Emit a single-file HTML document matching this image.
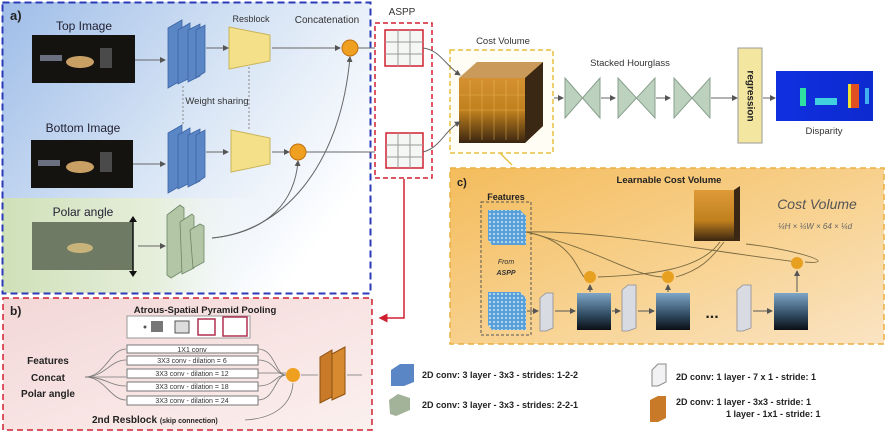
<!DOCTYPE html>
<html><head><meta charset="utf-8"><style>
html,body{margin:0;padding:0;background:#fff}
svg{display:block}
text{font-family:"Liberation Sans",sans-serif}
</style></head><body>
<svg width="885" height="432" viewBox="0 0 885 432" xmlns="http://www.w3.org/2000/svg">
<defs>
<linearGradient id="ga" x1="0" y1="0" x2="1" y2="0.6">
<stop offset="0" stop-color="#9fbde8"/><stop offset="0.55" stop-color="#d8e5f5"/><stop offset="1" stop-color="#ffffff"/></linearGradient>
<linearGradient id="gg" x1="0" y1="0" x2="1" y2="0">
<stop offset="0" stop-color="#cfe0b8"/><stop offset="0.6" stop-color="#e6efdc"/><stop offset="1" stop-color="#ffffff" stop-opacity="0"/></linearGradient>
<linearGradient id="gc" x1="0" y1="0" x2="1" y2="1">
<stop offset="0" stop-color="#f4bc5c"/><stop offset="0.6" stop-color="#f8d496"/><stop offset="1" stop-color="#fae4c4"/></linearGradient>
<linearGradient id="gb" x1="0" y1="0" x2="1" y2="1">
<stop offset="0" stop-color="#f3d7d7"/><stop offset="1" stop-color="#fbf0ee"/></linearGradient>
<linearGradient id="cube" x1="0" y1="0" x2="0" y2="1">
<stop offset="0" stop-color="#e09a38"/><stop offset="0.6" stop-color="#c0801e"/><stop offset="1" stop-color="#3a2510"/></linearGradient>
<linearGradient id="disp" x1="0" y1="0" x2="1" y2="0">
<stop offset="0" stop-color="#1030e0"/><stop offset="1" stop-color="#0d2ad0"/></linearGradient>
<linearGradient id="comb" x1="0" y1="0" x2="0" y2="1">
<stop offset="0" stop-color="#7fa6c8"/><stop offset="0.6" stop-color="#2f4a60"/><stop offset="1" stop-color="#0a0f14"/></linearGradient>
<pattern id="dots" width="4" height="4" patternUnits="userSpaceOnUse"><rect width="4" height="4" fill="#5aa0d8"/><circle cx="2" cy="2" r="1" fill="#cfe6f7"/></pattern>
<marker id="ar" markerWidth="6" markerHeight="6" refX="5" refY="3" orient="auto"><path d="M0,0 L6,3 L0,6z" fill="#555"/></marker>
<marker id="arr" markerWidth="6" markerHeight="6" refX="5" refY="3" orient="auto"><path d="M0,0 L6,3 L0,6z" fill="#d02030"/></marker>
</defs>

<rect x="2" y="2" width="368" height="291" fill="url(#ga)"/>
<rect x="2" y="198" width="260" height="95" fill="url(#gg)"/>
<rect x="2.5" y="2.5" width="368" height="291" fill="none" stroke="#2b3bb8" stroke-width="2" stroke-dasharray="7,4"/>
<text x="10" y="20" font-size="13" font-weight="bold" fill="#222">a)</text>
<text x="84" y="30" font-size="12" fill="#223" text-anchor="middle">Top Image</text>
<text x="83" y="132" font-size="12" fill="#223" text-anchor="middle">Bottom Image</text>
<text x="83" y="216" font-size="12" fill="#223" text-anchor="middle">Polar angle</text>
<rect x="32" y="35" width="103" height="48" fill="#15130f"/>
<ellipse cx="80" cy="62" rx="14" ry="6" fill="#c9a064"/><rect x="40" y="55" width="22" height="6" fill="#6a7080"/><rect x="100" y="48" width="12" height="20" fill="#4a4a4a"/>
<rect x="31" y="140" width="102" height="48" fill="#15130f"/>
<ellipse cx="80" cy="167" rx="14" ry="6" fill="#c9a064"/><rect x="38" y="160" width="22" height="6" fill="#6a7080"/><rect x="100" y="152" width="12" height="20" fill="#4a4a4a"/>
<rect x="32" y="222" width="101" height="48" fill="#6f7a64"/>
<ellipse cx="80" cy="248" rx="13" ry="5" fill="#c8b47a"/>
<line x1="133" y1="217" x2="133" y2="276" stroke="#111" stroke-width="1.5"/>
<path d="M129,222 L133,216 L137,222z M129,271 L133,277 L137,271z" fill="#111"/>
<g fill="#5b86c6" stroke="#3c64a4" stroke-width="0.8">
<path d="M168,28 L182,20 L182,80 L168,88z"/><path d="M178,30 L190,23 L190,78 L178,84z"/><path d="M188,30 L200,24 L200,76 L188,82z"/><path d="M196,30 L205,25 L205,72 L196,78z"/>
<path d="M168,133 L182,125 L182,185 L168,193z"/><path d="M178,135 L190,128 L190,183 L178,189z"/><path d="M188,135 L200,129 L200,181 L188,187z"/><path d="M196,135 L205,130 L205,177 L196,183z"/>
</g>
<g fill="#b3c7a6" stroke="#6d8566" stroke-width="0.8">
<path d="M167,215 L180,205 L184,208 L184,270 L171,278 L167,275z"/><path d="M180,222 L192,214 L194,216 L194,268 L182,274z"/><path d="M190,230 L200,224 L204,226 L204,262 L193,268z"/>
</g>
<path d="M229,27 L270,35 L270,61 L229,69z" fill="#f5e08a" stroke="#c8b45a"/>
<path d="M231,130 L270,138 L270,164 L231,172z" fill="#f5e08a" stroke="#c8b45a"/>
<text x="251" y="22" font-size="9" fill="#333" text-anchor="middle">Resblock</text>
<text x="327" y="23" font-size="10" fill="#333" text-anchor="middle">Concatenation</text>
<text x="217" y="104" font-size="9.5" fill="#333" text-anchor="middle">Weight sharing</text>
<line x1="183" y1="86" x2="183" y2="124" stroke="#888" stroke-dasharray="2,2"/>
<line x1="249" y1="67" x2="249" y2="130" stroke="#888" stroke-dasharray="2,2"/>
<g stroke="#666" stroke-width="1" fill="none" marker-end="url(#ar)">
<line x1="135" y1="60" x2="165" y2="60"/><line x1="133" y1="164" x2="165" y2="164"/><line x1="138" y1="246" x2="165" y2="246"/>
<line x1="206" y1="48" x2="228" y2="48"/><line x1="206" y1="152" x2="228" y2="152"/>
<line x1="272" y1="48" x2="340" y2="48"/><line x1="272" y1="152" x2="289" y2="152"/>
<path d="M212,238 C280,232 340,170 350,57"/><path d="M212,238 C270,232 295,200 298,161"/>
<line x1="358" y1="48" x2="383" y2="48"/><line x1="306" y1="152" x2="383" y2="152"/>
</g>
<circle cx="350" cy="48" r="8" fill="#f0a020" stroke="#c07010"/>
<circle cx="298" cy="152" r="8" fill="#f0a020" stroke="#c07010"/>

<text x="402" y="15" font-size="10" fill="#333" text-anchor="middle">ASPP</text>
<rect x="375" y="23" width="57" height="155" fill="#fff" stroke="#d02030" stroke-width="1.5" stroke-dasharray="5,3"/>
<g stroke="#d02030" stroke-width="1.5" fill="#f4f7f4">
<rect x="385" y="30" width="38" height="36"/><rect x="386" y="133" width="37" height="35"/></g>
<g stroke="#999" stroke-width="1" fill="none">
<path d="M398,30 V66 M410,30 V66 M385,42 H423 M385,54 H423"/>
<path d="M398,133 V168 M410,133 V168 M386,145 H423 M386,157 H423"/></g>
<path d="M404,179 V318 H380" stroke="#d02030" stroke-width="1.5" fill="none" marker-end="url(#arr)"/>

<text x="503" y="44" font-size="9.5" fill="#333" text-anchor="middle">Cost Volume</text>
<rect x="450" y="50" width="103" height="103" fill="#fffdf4" stroke="#e8c040" stroke-width="1.5" stroke-dasharray="5,3"/>
<path d="M459,78 L477,62 L543,62 L543,126 L525,143 L459,143z" fill="url(#cube)"/>
<path d="M459,78 L477,62 L543,62 L525,78z" fill="#c99a5a"/>
<path d="M525,78 L543,62 L543,126 L525,143z" fill="#3a2814"/>
<g stroke="#f0c060" stroke-width="0.6" opacity="0.7"><path d="M470,80 V140 M482,80 V140 M494,80 V140 M506,80 V140 M518,80 V140 M459,95 H525 M459,110 H525"/></g>
<g stroke="#666" fill="none" marker-end="url(#ar)"><path d="M423,48 C440,50 445,65 460,75"/><path d="M423,152 C440,148 445,130 460,122"/>
<line x1="554" y1="98" x2="563" y2="98"/><line x1="601" y1="98" x2="615" y2="98"/><line x1="656" y1="98" x2="670" y2="98"/><line x1="711" y1="98" x2="737" y2="98"/><line x1="763" y1="98" x2="775" y2="98"/></g>
<path d="M500,153 L512,165" stroke="#e8c040" stroke-width="1.5"/>
<text x="630" y="66" font-size="9.5" fill="#333" text-anchor="middle">Stacked Hourglass</text>
<g fill="#bcd2bf" stroke="#8aa08e">
<path d="M565,78 L600,118 L600,78 L565,118z"/><path d="M618,78 L655,118 L655,78 L618,118z"/><path d="M674,78 L710,118 L710,78 L674,118z"/></g>
<rect x="738" y="48" width="24" height="95" fill="#f3e6a0" stroke="#999"/>
<text x="750" y="96" font-size="10" font-weight="bold" fill="#222" text-anchor="middle" transform="rotate(90 750 96)" dominant-baseline="middle">regression</text>
<rect x="776" y="71" width="97" height="50" fill="url(#disp)"/>
<rect x="800" y="88" width="6" height="18" fill="#30e0a0"/><rect x="815" y="98" width="22" height="7" fill="#40d0e0"/><rect x="851" y="84" width="8" height="24" fill="#e05020"/><rect x="848" y="84" width="3" height="24" fill="#f0e030"/><rect x="865" y="88" width="4" height="16" fill="#40b0f0"/>
<text x="824" y="134" font-size="9.5" fill="#333" text-anchor="middle">Disparity</text>

<rect x="450" y="168" width="434" height="176" fill="url(#gc)" stroke="#eab040" stroke-width="1.5" stroke-dasharray="6,4"/>
<text x="457" y="186" font-size="11" font-weight="bold" fill="#222">c)</text>
<text x="669" y="183" font-size="9.5" font-weight="bold" fill="#222" text-anchor="middle">Learnable Cost Volume</text>
<text x="506" y="200" font-size="9" font-weight="bold" fill="#222" text-anchor="middle">Features</text>
<rect x="481" y="202" width="50" height="133" fill="none" stroke="#555" stroke-dasharray="3,2"/>
<path d="M488,210 L520,210 L526,216 L526,245 L492,245 L488,240z" fill="url(#dots)"/>
<path d="M488,292 L520,292 L526,298 L526,330 L492,330 L488,325z" fill="url(#dots)"/>
<text x="506" y="264" font-size="7" font-style="italic" fill="#333" text-anchor="middle">From</text>
<text x="506" y="275" font-size="7" font-weight="bold" font-style="italic" fill="#333" text-anchor="middle">ASPP</text>
<rect x="694" y="190" width="46" height="51" fill="url(#cube)"/>
<path d="M734,190 L740,186 L740,238 L734,241z" fill="#3a2814"/>
<text x="817" y="209" font-size="14" font-style="italic" fill="#555" text-anchor="middle" font-family="Liberation Serif,serif">Cost Volume</text>
<text x="815" y="229" font-size="8" font-style="italic" fill="#666" text-anchor="middle" font-family="Liberation Serif,serif">¼H × ¼W × 64 × ¼d</text>
<g stroke="#7a6a40" stroke-width="0.9" fill="none">
<path d="M526,232 C600,230 700,250 797,262"/><path d="M526,232 C570,240 575,265 584,277"/><path d="M526,232 C600,250 630,275 662,277"/>
<path d="M598,277 C650,275 700,270 720,242"/><path d="M676,277 C700,270 710,260 724,242"/><path d="M805,262 C840,265 800,250 746,244"/>
</g>
<g fill="#d9dbe2" stroke="#8a8c96" stroke-width="0.8">
<path d="M540,298 L546,293 L553,293 L553,328 L546,331 L540,331z"/><path d="M622,290 L628,285 L636,285 L636,328 L628,331 L622,331z"/><path d="M737,290 L743,285 L751,285 L751,328 L743,331 L737,331z"/></g>
<g fill="url(#comb)"><rect x="577" y="293" width="34" height="37"/><rect x="656" y="293" width="34" height="37"/><rect x="774" y="293" width="34" height="37"/></g>
<text x="712" y="318" font-size="16" font-weight="bold" fill="#222" text-anchor="middle">...</text>
<g stroke="#555" fill="none" marker-end="url(#ar)"><line x1="527" y1="311" x2="538" y2="311"/><line x1="555" y1="311" x2="575" y2="311"/><line x1="612" y1="311" x2="620" y2="311"/><line x1="638" y1="311" x2="654" y2="311"/><line x1="753" y1="311" x2="772" y2="311"/>
<line x1="590" y1="292" x2="590" y2="285"/><line x1="668" y1="292" x2="668" y2="285"/><line x1="797" y1="292" x2="797" y2="271"/></g>
<circle cx="590" cy="277" r="6" fill="#e8a020"/><circle cx="668" cy="277" r="6" fill="#e8a020"/><circle cx="797" cy="263" r="6" fill="#e8a020"/>

<rect x="3" y="298" width="369" height="132" fill="url(#gb)" stroke="#d02030" stroke-width="1.5" stroke-dasharray="6,4"/>
<text x="10" y="315" font-size="12" font-weight="bold" fill="#222">b)</text>
<text x="205" y="313" font-size="9.5" font-weight="bold" fill="#222" text-anchor="middle">Atrous-Spatial Pyramid Pooling</text>
<rect x="127" y="316" width="123" height="22" fill="#fff" stroke="#999"/>
<circle cx="145" cy="327" r="1.5" fill="#555"/><rect x="151" y="321" width="12" height="11" fill="#777"/>
<rect x="175" y="321" width="14" height="12" fill="#ddd" stroke="#555"/>
<rect x="198" y="319" width="17" height="16" fill="#fff" stroke="#b03050" stroke-width="1.5"/>
<rect x="223" y="317" width="24" height="19" fill="#fff" stroke="#b03050" stroke-width="1.5"/>
<g font-size="7" fill="#333" text-anchor="middle">
<rect x="127" y="345" width="131" height="8" fill="#fff" stroke="#777"/><text x="192" y="352">1X1 conv</text>
<rect x="127" y="356" width="131" height="9" fill="#fff" stroke="#777"/><text x="192" y="363">3X3 conv - dilation = 6</text>
<rect x="127" y="369" width="131" height="9" fill="#fff" stroke="#777"/><text x="192" y="376">3X3 conv - dilation = 12</text>
<rect x="127" y="382" width="131" height="9" fill="#fff" stroke="#777"/><text x="192" y="389">3X3 conv - dilation = 18</text>
<rect x="127" y="396" width="131" height="9" fill="#fff" stroke="#777"/><text x="192" y="403">3X3 conv - dilation = 24</text></g>
<text x="48" y="364" font-size="10" font-weight="bold" fill="#222" text-anchor="middle">Features</text>
<text x="48" y="381" font-size="10" font-weight="bold" fill="#222" text-anchor="middle">Concat</text>
<text x="48" y="397" font-size="10" font-weight="bold" fill="#222" text-anchor="middle">Polar angle</text>
<text x="92" y="423" font-size="10" font-weight="bold" fill="#222">2nd Resblock <tspan font-size="7">(skip connection)</tspan></text>
<g stroke="#777" stroke-width="0.8" fill="none">
<path d="M85,377 C105,377 110,349 126,349"/><path d="M85,377 C105,377 110,360 126,360"/><path d="M85,377 H126"/><path d="M85,377 C105,377 110,386 126,386"/><path d="M85,377 C105,377 110,400 126,400"/>
<path d="M258,349 C275,349 275,375 286,375"/><path d="M258,360 C275,360 275,375 286,375"/><path d="M258,373 H286"/><path d="M258,386 C275,386 275,375 286,375"/><path d="M258,400 C275,400 275,375 286,375"/>
<path d="M245,420 C280,418 292,400 293,383"/><line x1="301" y1="375" x2="318" y2="375"/><line x1="347" y1="375" x2="362" y2="375"/></g>
<circle cx="293" cy="375" r="7" fill="#f0a020"/>
<path d="M320,357 L332,350 L332,397 L320,403z" fill="#c87a28" stroke="#8a5010"/><path d="M332,354 L345,347 L345,394 L332,400z" fill="#d88a30" stroke="#8a5010"/>

<path d="M391,370 L400,364 L414,364 L414,382 L404,386 L391,386z" fill="#5b86c6"/>
<text x="422" y="378" font-size="9" font-weight="bold" fill="#222">2D conv: 3 layer - 3x3 - strides: 1-2-2</text>
<path d="M389,400 L398,394 L410,398 L410,410 L396,416 L390,414z" fill="#a3b39a"/>
<text x="422" y="408" font-size="9" font-weight="bold" fill="#222">2D conv: 3 layer - 3x3 - strides: 2-2-1</text>
<path d="M652,370 L658,364 L666,364 L666,382 L658,386 L652,386z" fill="#f2f2f5" stroke="#888"/>
<text x="676" y="380" font-size="9" font-weight="bold" fill="#222">2D conv: 1 layer - 7 x 1 - stride: 1</text>
<path d="M650,400 L658,396 L666,396 L666,418 L658,422 L650,422z" fill="#c87a28"/>
<text x="676" y="405" font-size="9" font-weight="bold" fill="#222">2D conv: 1 layer - 3x3 - stride: 1</text>
<text x="726" y="417" font-size="9" font-weight="bold" fill="#222">1 layer - 1x1 - stride: 1</text>
</svg>
</body></html>
